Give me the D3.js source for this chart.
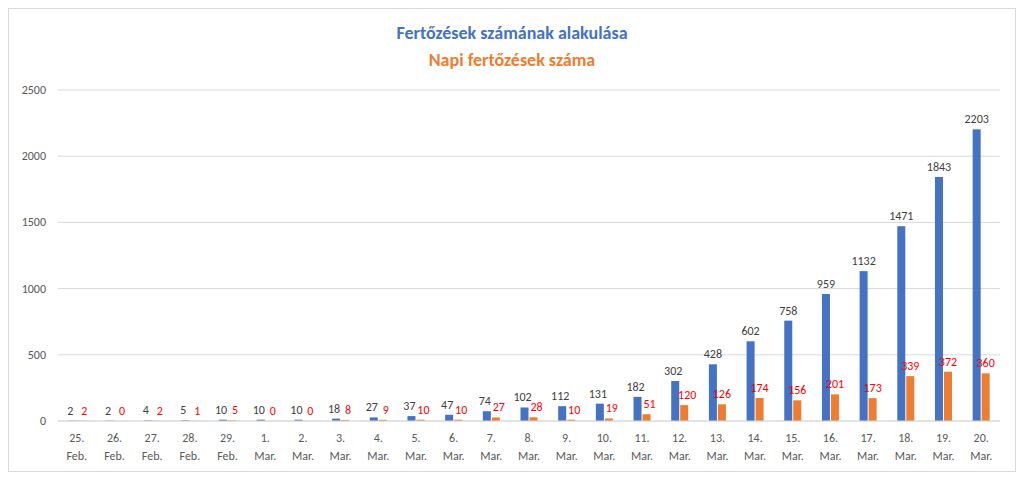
<!DOCTYPE html>
<html><head><meta charset="utf-8">
<script src="https://cdn.jsdelivr.net/npm/d3@7"></script>
<style>body{margin:0;background:#fff;font-family:Calibri,"Liberation Sans",Arial,sans-serif}</style>
</head><body><svg id="c" width="1024" height="482"></svg>
<script>
const days = ["25.","26.","27.","28.","29.","1.","2.","3.","4.","5.","6.","7.","8.","9.","10.","11.","12.","13.","14.","15.","16.","17.","18.","19.","20."];
const months = ["Feb.","Feb.","Feb.","Feb.","Feb.","Mar.","Mar.","Mar.","Mar.","Mar.","Mar.","Mar.","Mar.","Mar.","Mar.","Mar.","Mar.","Mar.","Mar.","Mar.","Mar.","Mar.","Mar.","Mar.","Mar."];
const total = [2,2,4,5,10,10,10,18,27,37,47,74,102,112,131,182,302,428,602,758,959,1132,1471,1843,2203];
const daily = [2,0,2,1,5,0,0,8,9,10,10,27,28,10,19,51,120,126,174,156,201,173,339,372,360];
const yTicks = [0,500,1000,1500,2000,2500];

const svg = d3.select("#c");
svg.append("rect").attr("x",8.5).attr("y",8.5).attr("width",1007).attr("height",463).attr("fill","#fff").attr("stroke","#d9d9d9");
const L=58,R=1000,T=90,B=421;
const x = d3.scaleBand().domain(d3.range(days.length)).range([L,R]);
const y = d3.scaleLinear().domain([0,2500]).range([B,T]);
svg.append("g").selectAll("line").data(yTicks).join("line")
  .attr("x1",L).attr("x2",R).attr("y1",d=>y(d)).attr("y2",d=>y(d)).attr("stroke","#d9d9d9");
svg.append("g").selectAll("text").data(yTicks).join("text")
  .attr("x",46).attr("y",d=>y(d)+4).attr("text-anchor","end").attr("font-size",12).attr("fill","#595959").text(d=>d);
const bw=8;
const g=svg.append("g");
g.selectAll(".b").data(total).join("rect").attr("x",(d,i)=>x(i)+x.bandwidth()/2-bw-0.5).attr("width",bw)
  .attr("y",d=>y(d)).attr("height",d=>B-y(d)).attr("fill","#4472C4");
g.selectAll(".o").data(daily).join("rect").attr("x",(d,i)=>x(i)+x.bandwidth()/2+0.5).attr("width",bw)
  .attr("y",d=>y(d)).attr("height",d=>B-y(d)).attr("fill","#ED7D31");
g.selectAll(".bl").data(total).join("text").attr("x",(d,i)=>x(i)+x.bandwidth()/2-bw/2-0.5).attr("y",d=>y(d)-6)
  .attr("text-anchor","end").attr("dx",4).attr("font-size",12).attr("fill","#404040").text(d=>d)
  .attr("text-anchor","middle").attr("dx",(d,i)=>i<17? -2:0);
g.selectAll(".ol").data(daily).join("text").attr("x",(d,i)=>x(i)+x.bandwidth()/2+bw/2+0.5).attr("y",d=>y(d)-6)
  .attr("text-anchor","middle").attr("dx",(d,i)=>i<17? 3:0).attr("font-size",12).attr("fill","#FF0000").text(d=>d);
svg.append("line").attr("x1",L).attr("x2",R).attr("y1",B).attr("y2",B).attr("stroke","#d9d9d9");
const xl=svg.append("g").selectAll("text").data(days).join("text")
  .attr("x",(d,i)=>x(i)+x.bandwidth()/2).attr("text-anchor","middle").attr("font-size",12).attr("fill","#595959");
xl.append("tspan").attr("y",442).text(d=>d);
xl.append("tspan").attr("x",(d,i)=>x(i)+x.bandwidth()/2).attr("y",460).text((d,i)=>months[i]);
svg.append("text").attr("x",512).attr("y",39).attr("text-anchor","middle").attr("font-size",18).attr("font-weight","bold").attr("fill","#4472C4").text("Fertőzések számának alakulása");
svg.append("text").attr("x",512).attr("y",66).attr("text-anchor","middle").attr("font-size",18).attr("font-weight","bold").attr("fill","#ED7D31").text("Napi fertőzések száma");
</script></body></html>
